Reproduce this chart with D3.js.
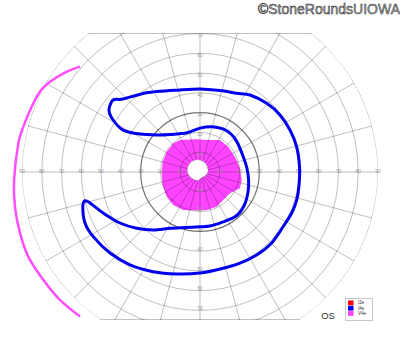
<!DOCTYPE html>
<html>
<head>
<meta charset="utf-8">
<script src="https://cdn.jsdelivr.net/npm/d3@7"></script>
<style>
  body { margin: 0; background: #fff; }
  text { font-family: "Liberation Sans", Arial, sans-serif; }
</style>
</head>
<body>
<script>
// ring labels (degrees of eccentricity) and spoke directions
const ringLabels = [10, 20, 30, 40, 50, 60, 70, 80, 90];
const spokeAngles = [0, 15, 30, 45, 60, 75, 90, 105, 120, 135, 150, 165,
                     180, 195, 210, 225, 240, 255, 270, 285, 300, 315, 330, 345];
const vertLabels = [10, 20, 30, 40, 50, 60, 70];

// I4e isopter (blue), polar angle in degrees (0 = right, ccw) and eccentricity
const i4eAngle = [145.7, 140.4, 136.5, 123.9, 103.7, 90, 76.2, 65.0, 57.0, 45.8, 35.5, 25.0,
  14.7, 3.0, -7.5, -16.1, -24.1, -33.4, -44.7, -55.7, -66.3, -78.3, -90, -102.9, -115.2,
  -127.0, -138.0, -148.8, -156.1, -163.5, -166.0, -164.3, -157.1, -147.5, -138.4, -129.0,
  -118.1, -105.1, -90, -79.5, -65.3, -50.6, -36.9, -22.6, -9.4, 4.9, 19.5, 39.0, 50.8,
  61.9, 75.2, 90, 108.3, 128.7, 139.3, 147.7, 151.4, 149.1];
const i4eEcc = [55.7, 57.1, 53.6, 48.3, 42.7, 42.0, 42.4, 43.9, 46.4, 48.4, 49.7, 50.2,
  50.5, 50.4, 50.5, 50.9, 50.8, 50.3, 51.0, 50.8, 50.3, 50.1, 51.1, 52.9, 55.7,
  58.8, 61.2, 63.1, 63.6, 61.8, 59.9, 57.8, 53.2, 48.0, 42.8, 37.7,
  32.3, 29.1, 27.7, 27.8, 27.8, 28.8, 28.0, 26.3, 24.9, 23.8, 23.2, 24.1, 24.8,
  24.7, 23.7, 22.2, 20.9, 24.3, 28.7, 35.9, 44.3, 51.2];

// V4e isopter (magenta line, temporal side)
const v4eAngle = [138.7, 143.0, 149.0, 153.3, 158.8, 165.6, 171.0, 182.5, 190.6, 198.7, 206.3, 214.6, 222.4, 230.3];
const v4eEcc = [80.7, 84.3, 88.5, 90.5, 91.3, 92.2, 93.0, 94.1, 95.2, 96.1, 96.8, 96.2, 95.9, 95.0];

// central filled area and its hole
const fieldAngle = [122.0, 95.8, 78.2, 58.0, 41.8, 23.6, 5.3, -10.9, -22.2, -35.4, -50.2,
  -64.3, -80, -94.9, -113.7, -129.0, -143.4, -160.8, -178.1, 164.6, 148.6, 132.9];
const fieldEcc = [19.1, 16.6, 16.5, 19.1, 19.2, 19.3, 20.3, 21.5, 21.8, 18.6, 18.4,
  19.5, 19.5, 19.6, 21.0, 21.5, 21.0, 20.0, 19.4, 19.6, 19.7, 19.8];
const holeAngle = [100.6, 135.9, 171, 208.9, 254.5, 279.5, 333.4, 14, 61.7];
const holeEcc = [6.3, 6.8, 6.5, 5.5, 4.4, 3.1, 3.4, 4.2, 5.3];

const legendNames = ["I2e", "I4e", "V4e"];
const legendColors = ["#ff0000", "#0000ff", "#ff44ff"];

const width = 400, height = 352;
const cx = 200, cy = 172;
const topEcc = 70.3, bottomEcc = 74.8;

const r = d3.scaleLinear().domain([0, 90]).range([0, 178]);
const rad = a => (90 - a) * Math.PI / 180;

const svg = d3.select("body").append("svg")
  .attr("width", width)
  .attr("height", height);

svg.append("rect").attr("width", width).attr("height", height).attr("fill", "#fff");

const defs = svg.append("defs");
defs.append("clipPath").attr("id", "clipRect")
  .append("rect")
  .attr("x", -cx).attr("y", -r(topEcc))
  .attr("width", width).attr("height", r(topEcc) + r(bottomEcc));
defs.append("clipPath").attr("id", "clipCircle")
  .append("circle").attr("cx", 0).attr("cy", 0).attr("r", r(90));

// layers: field fill, grid, overlays
const fillLayer = svg.append("g").attr("transform", `translate(${cx},${cy})`);
const grid = svg.append("g").attr("transform", `translate(${cx},${cy})`)
  .append("g").attr("clip-path", "url(#clipRect)")
  .append("g").attr("clip-path", "url(#clipCircle)");
const overlay = svg.append("g").attr("transform", `translate(${cx},${cy})`);

function pts(angles, eccs) {
  return angles.map((a, i) => [rad(a), r(eccs[i])]);
}

// central filled field
const fieldLine = d3.lineRadial().curve(d3.curveLinearClosed);
const holeLine = d3.lineRadial().curve(d3.curveCardinalClosed);
fillLayer.append("path")
  .attr("d", fieldLine(pts(fieldAngle, fieldEcc)))
  .attr("fill", "#ff44ff");

// grid
grid.selectAll(".spoke")
  .data(spokeAngles)
  .join("line")
  .attr("x1", 0).attr("y1", 0)
  .attr("x2", d => r(95) * Math.cos(d * Math.PI / 180))
  .attr("y2", d => -r(95) * Math.sin(d * Math.PI / 180))
  .attr("stroke", "#000").attr("stroke-opacity", 0.25).attr("stroke-width", 1);

grid.selectAll(".ring")
  .data(ringLabels)
  .join("circle")
  .attr("r", d => r(d))
  .attr("fill", "none")
  .attr("stroke", "#000")
  .attr("stroke-opacity", d => d === 30 ? 0.55 : 0.25)
  .attr("stroke-width", d => d === 30 ? 1.2 : 1);

// top and bottom border lines
grid.selectAll(".edge")
  .data([-r(topEcc) + 0.5, r(bottomEcc) - 0.5])
  .join("line")
  .attr("x1", -r(90)).attr("x2", r(90))
  .attr("y1", d => d).attr("y2", d => d)
  .attr("stroke", "#000").attr("stroke-opacity", 0.25);

// hole in the central field, drawn over the grid
overlay.append("path")
  .attr("d", holeLine(pts(holeAngle, holeEcc)))
  .attr("fill", "#fff")
  .attr("stroke", "#999")
  .attr("stroke-width", 0.8)
  .attr("stroke-dasharray", "1.5,1");

// axis labels
const labels = overlay.append("g").attr("font-size", 5).attr("fill", "#999").attr("text-anchor", "middle");
[-1, 1].forEach(s => {
  labels.selectAll(null)
    .data(ringLabels)
    .join("text")
    .attr("x", d => s * r(d))
    .attr("y", -1)
    .attr("dy", "0.35em")
    .text(d => d);
  labels.selectAll(null)
    .data(vertLabels)
    .join("text")
    .attr("x", 0)
    .attr("y", d => s * r(d) + (s < 0 ? 2 : -2))
    .attr("dy", "0.35em")
    .text(d => d);
});

// isopters
overlay.append("path")
  .attr("d", d3.lineRadial().curve(d3.curveCardinalClosed.tension(0.2))(pts(i4eAngle, i4eEcc)))
  .attr("fill", "none")
  .attr("stroke", "#0000ee")
  .attr("stroke-width", 3)
  .attr("stroke-linejoin", "round");

overlay.append("path")
  .attr("d", d3.lineRadial().curve(d3.curveCardinal)(pts(v4eAngle, v4eEcc)))
  .attr("fill", "none")
  .attr("stroke", "#ff4dff")
  .attr("stroke-width", 2.5)
  .attr("stroke-linecap", "butt");

// eye label
svg.append("text")
  .attr("x", 328).attr("y", 319)
  .attr("text-anchor", "middle")
  .attr("font-size", 9.5)
  .attr("fill", "#333")
  .text("OS");

// legend
const legend = svg.append("g").attr("transform", "translate(345.5,298.5)");
legend.append("rect")
  .attr("width", 27).attr("height", 22)
  .attr("fill", "#fff").attr("stroke", "#bbb").attr("stroke-width", 0.8);
legend.selectAll(".sw")
  .data(legendNames)
  .join("rect")
  .attr("x", 2.5).attr("y", (d, i) => 2 + i * 5.3)
  .attr("width", 5.5).attr("height", 4.8)
  .attr("fill", (d, i) => legendColors[i]);
legend.selectAll(".lb")
  .data(legendNames)
  .join("text")
  .attr("x", 12.5).attr("y", (d, i) => 4.4 + i * 5.3)
  .attr("dy", "0.35em")
  .attr("font-size", 4.5)
  .attr("fill", "#333")
  .text(d => d);

// watermark
svg.append("text")
  .attr("x", 400).attr("y", 13.5)
  .attr("text-anchor", "end")
  .attr("font-size", 14)
  .attr("fill", "#aaa")
  .attr("stroke", "#333")
  .attr("stroke-width", 0.5)
  .text("\u00A9StoneRoundsUIOWA");
</script>
</body>
</html>
